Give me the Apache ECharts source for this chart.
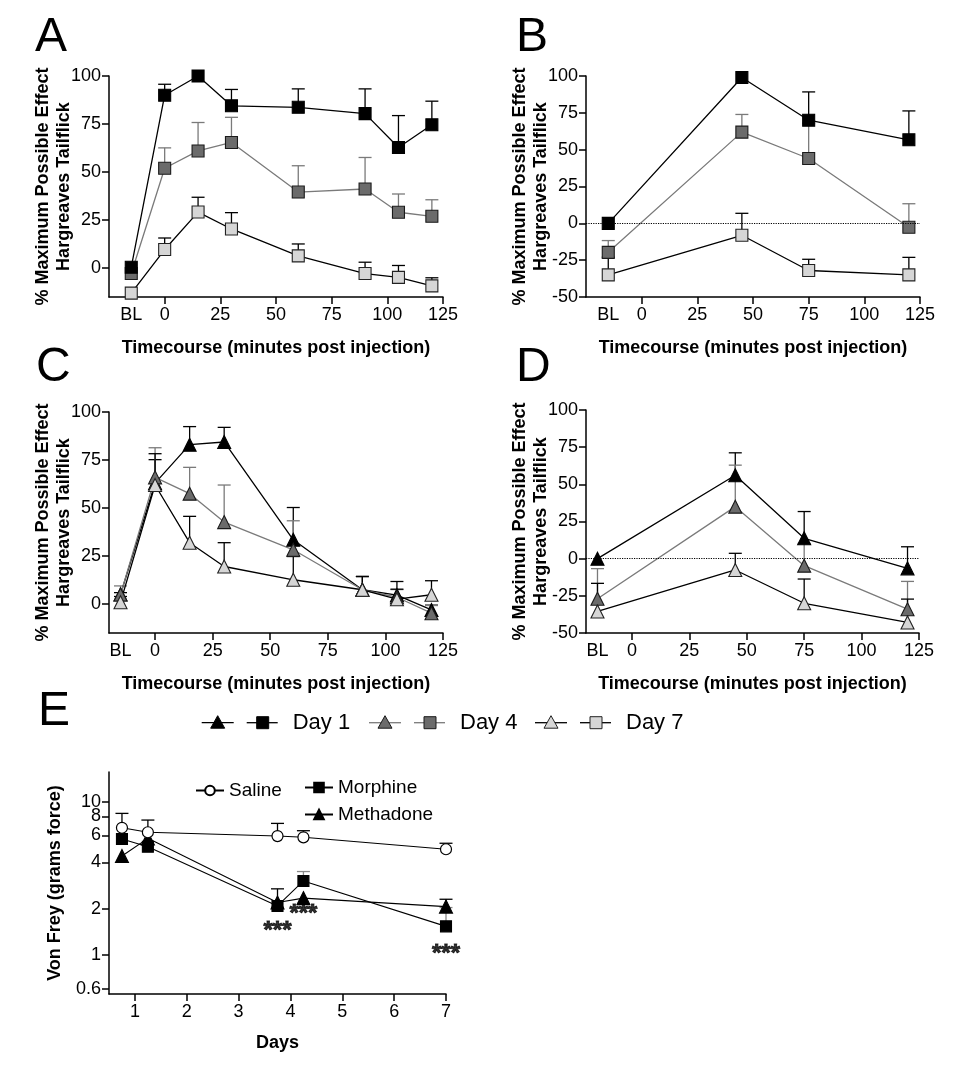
<!DOCTYPE html>
<html><head><meta charset="utf-8">
<script src="https://cdn.jsdelivr.net/npm/echarts@6/dist/echarts.min.js"></script>
<style>html,body{margin:0;padding:0;background:#fff}#c{width:968px;height:1070px}</style>
</head><body><div id="c"></div>
<script>
// ---------- DATA ----------
// Panels A/B: squares (morphine), Panels C/D: triangles (methadone); x in minutes, BL = -15
const xA = [-15, 0, 15, 30, 60, 90, 105, 120];
const A_day1 = [0.5, 90, 100, 84.5, 83.7, 80.4, 62.8, 74.6];
const A_day1_sem = [0, 5.7, 0, 8.5, 9.6, 12.9, 16.6, 12.3];
const A_day4 = [-2.8, 52, 61, 65.4, 39.6, 41.2, 29.1, 27];
const A_day4_sem = [0, 10.6, 14.8, 13.1, 13.7, 16.4, 9.5, 8.6];
const A_day7 = [-13, 9.7, 29.2, 20.4, 6.4, -2.8, -4.8, -9.2];
const A_day7_sem = [0, 6, 7.7, 8.5, 6.2, 5.9, 6.2, 4.2];

const xB = [-15, 45, 75, 120];
const B_day1 = [0, 99, 70, 56.7];
const B_day1_sem = [0, 0, 19.2, 19.6];
const B_day4 = [-19.7, 61.9, 44, -2.7];
const B_day4_sem = [8, 12, 24, 16];
const B_day7 = [-35, -8.1, -32, -35];
const B_day7_sem = [12, 14.9, 7.6, 11.9];

const xC = [-15, 0, 15, 30, 60, 90, 105, 120];
const C_day1 = [5, 63, 83, 84.4, 33.5, 7.5, 4.7, -3];
const C_day1_sem = [1, 12.2, 9.4, 7.6, 16.8, 6.9, 7.1, 2.5];
const C_day4 = [5, 66, 57.5, 42.7, 28.3, 7.5, 3.6, -4.7];
const C_day4_sem = [4.5, 15.4, 13.7, 19.3, 15.1, 6.9, 4, 4];
const C_day7 = [1, 62, 32, 19.6, 12.7, 7.5, 2.6, 4.9];
const C_day7_sem = [3, 16.3, 13.7, 12.4, 12.1, 6.9, 5.2, 7.3];

const xD = [-15, 45, 75, 120];
const D_day1 = [0, 56.1, 13.7, -6.5];
const D_day1_sem = [0, 15.1, 18, 14.5];
const D_day4 = [-27, 35, -4.7, -34];
const D_day4_sem = [20.3, 27.9, 15, 18.7];
const D_day7 = [-35.5, -7.6, -30, -42.9];
const D_day7_sem = [18.9, 11.2, 16.3, 15.7];

// Panel E: Von Frey over days
const xE = [0.75, 1.25, 3.75, 4.25, 7];
const E_saline = [6.74, 6.3, 5.95, 5.84, 4.88];
const E_saline_sem = [1.63, 1.27, 1.25, 0.61, 0.46];
const E_morphine = [5.69, 5.07, 2.08, 3.03, 1.53];
const E_morphine_sem = [0, 0, 0, 0.46, 0.5];
const E_methadone = [4.41, 5.75, 2.19, 2.34, 2.06];
const E_methadone_sem = [0, 0, 0.5, 0, 0.24];
const E_sig = [[3.75, 1.53], [4.25, 1.99], [7, 1.09]];
const E_sigLabel = '***';

const timeTicks = [0, 25, 50, 75, 100, 125];
const timeLabels = [-15, 0, 25, 50, 75, 100, 125];
const yTicksAC = [0, 25, 50, 75, 100];
const yTicksBD = [-50, -25, 0, 25, 50, 75, 100];
const eYTicks = [0.6, 1, 2, 4, 6, 8, 10];
const eYMin = 0.553, eYMax = 15.6;
const eXTicks = [1, 2, 3, 4, 5, 6, 7];
const dayNames = ['Day 1', 'Day 4', 'Day 7'];
const panelLetters = ['A', 'B', 'C', 'D', 'E'];
const eNames = ['Saline', 'Morphine', 'Methadone'];
const xTitle = 'Timecourse (minutes post injection)';
const yTitle = '% Maximum Possible Effect\nHargreaves Tailflick';

// ---------- STYLE ----------
const FONT = 'Liberation Sans, Arial, sans-serif';
const dayStyle = [
  {fill: '#000000', border: '#000000', line: '#000000', err: '#000000'},
  {fill: '#6b6b6b', border: '#1a1a1a', line: '#7a7a7a', err: '#7a7a7a'},
  {fill: '#d6d6d6', border: '#222222', line: '#000000', err: '#000000'}
];

function errSeries(idx, xs, ys, sems, color, zz) {
  const data = [];
  xs.forEach((x, i) => { if (sems[i] > 0) data.push([x, ys[i], ys[i] + sems[i]]); });
  return {
    type: 'custom', xAxisIndex: idx, yAxisIndex: idx, z: zz || 1, silent: true, clip: false,
    encode: {x: 0, y: [1, 2]},
    data: data,
    renderItem: function (params, api) {
      const p0 = api.coord([api.value(0), api.value(1)]);
      const p1 = api.coord([api.value(0), api.value(2)]);
      const hw = 6.5;
      return {type: 'group', children: [
        {type: 'line', shape: {x1: p0[0], y1: p0[1], x2: p1[0], y2: p1[1]}, style: {stroke: color, lineWidth: 1.3}},
        {type: 'line', shape: {x1: p1[0] - hw, y1: p1[1], x2: p1[0] + hw, y2: p1[1]}, style: {stroke: color, lineWidth: 1.3}}
      ]};
    }
  };
}
function lineSeries(idx, name, xs, ys, st, symbol, size, extra) {
  const s = {
    type: 'line', name: name, xAxisIndex: idx, yAxisIndex: idx, z: 3, clip: false,
    data: xs.map((x, i) => [x, ys[i]]),
    symbol: symbol, symbolSize: size, showAllSymbol: true,
    lineStyle: {color: st.line, width: 1.3},
    itemStyle: {color: st.fill, borderColor: st.border, borderWidth: 1.1, opacity: 1}
  };
  return Object.assign(s, extra || {});
}

const axisCommon = {
  axisLine: {onZero: false, lineStyle: {color: '#000', width: 1.5}},
  splitLine: {show: false},
  nameMoveOverlap: false,
  nameTextStyle: {color: '#000', fontFamily: FONT, fontWeight: 'bold', fontSize: 18}
};
function timeXAxis(idx, min) {
  return Object.assign({}, axisCommon, {
    type: 'value', gridIndex: idx, min: min, max: 125,
    name: xTitle, nameLocation: 'middle', nameGap: 42,
    axisTick: {length: 7, lineStyle: {color: '#000', width: 1.5}, customValues: timeTicks},
    axisLabel: {color: '#000', fontFamily: FONT, fontSize: 18, margin: 9, customValues: timeLabels, hideOverlap: false,
      formatter: v => (v === -15 ? 'BL' : String(v))}
  });
}
function pctYAxis(idx, min, ticks) {
  return Object.assign({}, axisCommon, {
    type: 'value', gridIndex: idx, min: min, max: 100,
    name: yTitle, nameLocation: 'middle', nameGap: 34, nameRotate: 90,
    nameTextStyle: {color: '#000', fontFamily: FONT, fontWeight: 'bold', fontSize: 18, lineHeight: 21},
    axisTick: {length: 7, lineStyle: {color: '#000', width: 1.5}, customValues: ticks},
    axisLabel: {color: '#000', fontFamily: FONT, fontSize: 18, margin: 8, customValues: ticks, hideOverlap: false}
  });
}

const grids = [
  {left: 109, top: 76, width: 334, height: 221},
  {left: 586, top: 76, width: 334, height: 221},
  {left: 109, top: 412, width: 334, height: 221},
  {left: 586, top: 410, width: 333, height: 223},
  {left: 109, top: 772, width: 337, height: 222}
];

const zeroLine = {markLine: {silent: true, symbol: 'none', label: {show: false},
  lineStyle: {type: 'dotted', color: '#000', width: 1.2}, data: [{yAxis: 0}], animation: false}};

const series = [];
const Aset = [[A_day1, A_day1_sem], [A_day4, A_day4_sem], [A_day7, A_day7_sem]];
const Bset = [[B_day1, B_day1_sem], [B_day4, B_day4_sem], [B_day7, B_day7_sem]];
const Cset = [[C_day1, C_day1_sem], [C_day4, C_day4_sem], [C_day7, C_day7_sem]];
const Dset = [[D_day1, D_day1_sem], [D_day4, D_day4_sem], [D_day7, D_day7_sem]];
[2, 1, 0].forEach(d => {
  series.push(errSeries(0, xA, Aset[d][0], Aset[d][1], dayStyle[d].err));
  series.push(lineSeries(0, dayNames[d], xA, Aset[d][0], dayStyle[d], 'rect', 12));
});
[2, 1, 0].forEach(d => {
  series.push(errSeries(1, xB, Bset[d][0], Bset[d][1], dayStyle[d].err));
  series.push(lineSeries(1, dayNames[d], xB, Bset[d][0], dayStyle[d], 'rect', 12, d === 0 ? zeroLine : null));
});
[0, 1, 2].forEach(d => {
  series.push(errSeries(2, xC, Cset[d][0], Cset[d][1], dayStyle[d].err));
  series.push(lineSeries(2, dayNames[d], xC, Cset[d][0], dayStyle[d], 'triangle', 13));
});
[0, 1, 2].forEach(d => {
  series.push(errSeries(3, xD, Dset[d][0], Dset[d][1], dayStyle[d].err));
  series.push(lineSeries(3, dayNames[d], xD, Dset[d][0], dayStyle[d], 'triangle', 13, d === 0 ? zeroLine : null));
});
// Panel E
const eSt = {fill: '#000', border: '#000', line: '#000', err: '#000'};
series.push(errSeries(4, xE, E_methadone, E_methadone_sem, '#000'));
series.push(errSeries(4, xE, E_morphine, E_morphine_sem, '#888'));
series.push(errSeries(4, xE, E_saline, E_saline_sem, '#000'));
series.push(lineSeries(4, eNames[2], xE, E_methadone, eSt, 'triangle', 13, {lineStyle: {color: '#000', width: 1.1}}));
series.push(lineSeries(4, eNames[1], xE, E_morphine, eSt, 'rect', 11, {lineStyle: {color: '#000', width: 1.1}}));
series.push(lineSeries(4, eNames[0], xE, E_saline, {fill: '#fff', border: '#000', line: '#000'}, 'circle', 11,
  {lineStyle: {color: '#000', width: 1.1}, itemStyle: {color: '#fff', borderColor: '#000', borderWidth: 1.2, opacity: 1}}));
series.push({
  type: 'scatter', xAxisIndex: 4, yAxisIndex: 4, symbolSize: 0, silent: true, z: 5,
  itemStyle: {color: '#000'},
  data: E_sig,
  label: {show: true, position: 'inside', formatter: E_sigLabel, color: '#000', textBorderColor: '#000', textBorderWidth: 0.9,
    fontFamily: FONT, fontWeight: 'bold', fontSize: 24, offset: [0, 5]}
});

// ---------- graphics: panel letters + central legend ----------
const graphics = [];
const letterPos = [[35, 37.5], [516, 37.5], [36, 367.5], [516, 368], [38, 712]];
panelLetters.forEach((L, i) => {
  graphics.push({type: 'text', left: letterPos[i][0], top: letterPos[i][1] - 24,
    style: {text: L, fontFamily: FONT, fontSize: 48, fill: '#000', lineHeight: 48}});
});
const legY = 722.7;
const legStart = [201.7, 369, 535];
dayNames.forEach((nm, i) => {
  const x0 = legStart[i];
  const st = dayStyle[i];
  const lc = i === 1 ? '#7a7a7a' : '#000';
  graphics.push({type: 'line', shape: {x1: x0, y1: legY, x2: x0 + 32, y2: legY}, style: {stroke: lc, lineWidth: 1.3}});
  graphics.push({type: 'polygon', shape: {points: [[x0 + 16, legY - 7], [x0 + 23, legY + 5.5], [x0 + 9, legY + 5.5]]},
    style: {fill: st.fill, stroke: st.border, lineWidth: 1}});
  graphics.push({type: 'line', shape: {x1: x0 + 45, y1: legY, x2: x0 + 76, y2: legY}, style: {stroke: lc, lineWidth: 1.3}});
  graphics.push({type: 'rect', shape: {x: x0 + 55, y: legY - 6, width: 12, height: 12},
    style: {fill: st.fill, stroke: st.border, lineWidth: 1}});
  graphics.push({type: 'text', x: x0 + 91, y: legY, style: {text: nm, fontFamily: FONT, fontSize: 22, fill: '#000',
    verticalAlign: 'middle', align: 'left'}});
});

const chart = echarts.init(document.getElementById('c'), null, {renderer: 'canvas'});
chart.setOption({
  animation: false,
  backgroundColor: '#fff',
  grid: grids,
  xAxis: [
    timeXAxis(0, -25), timeXAxis(1, -25), timeXAxis(2, -20), timeXAxis(3, -20),
    Object.assign({}, axisCommon, {
      type: 'value', gridIndex: 4, min: 0.5, max: 7, name: 'Days', nameLocation: 'middle', nameGap: 40,
      axisTick: {length: 7, lineStyle: {color: '#000', width: 1.5}, customValues: eXTicks},
      axisLabel: {color: '#000', fontFamily: FONT, fontSize: 18, margin: 9, customValues: eXTicks, hideOverlap: false}
    })
  ],
  yAxis: [
    pctYAxis(0, -15, yTicksAC), pctYAxis(1, -50, yTicksBD), pctYAxis(2, -15, yTicksAC), pctYAxis(3, -50, yTicksBD),
    Object.assign({}, axisCommon, {
      type: 'log', gridIndex: 4, min: eYMin, max: eYMax, logBase: 10,
      name: 'Von Frey (grams force)', nameLocation: 'middle', nameGap: 45, nameRotate: 90,
      axisTick: {length: 7, lineStyle: {color: '#000', width: 1.5}, customValues: eYTicks},
      // the axis-top value is listed with an empty label so that the "10" label is not the edge label
      axisLabel: {color: '#000', fontFamily: FONT, fontSize: 18, margin: 8, customValues: eYTicks.concat([eYMax]),
        hideOverlap: false, formatter: v => (v > 12 ? '' : String(v))},
      minorTick: {show: false}
    })
  ],
  legend: [
    {data: [eNames[0]], left: 195, top: 781, padding: 0, itemWidth: 28, itemHeight: 12, itemGap: 6,
      textStyle: {fontFamily: FONT, fontSize: 19, color: '#000'}, selectedMode: false},
    {data: [eNames[1], eNames[2]], orient: 'vertical', left: 304, top: 778, padding: 0, itemWidth: 28, itemHeight: 12, itemGap: 8,
      textStyle: {fontFamily: FONT, fontSize: 19, color: '#000'}, selectedMode: false}
  ],
  graphic: graphics,
  series: series
});
</script></body></html>
